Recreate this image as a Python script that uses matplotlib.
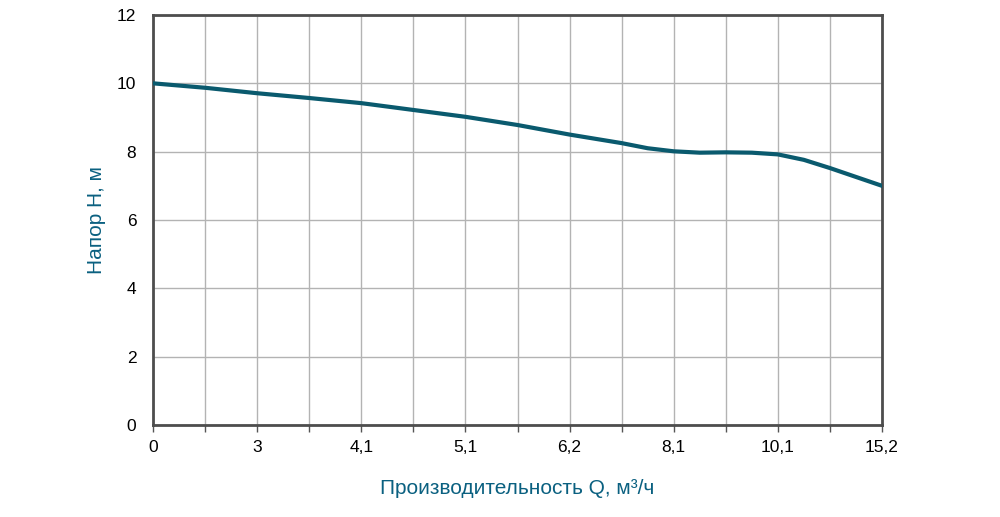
import matplotlib
matplotlib.use('Agg')
import matplotlib.pyplot as plt
from matplotlib.ticker import MultipleLocator

# category labels on the flow axis (evenly spaced)
q_labels = ['0', '3', '4,1', '5,1', '6,2', '8,1', '10,1', '15,2']

# curve (position in category steps, head in m)
curve_pos = [0, 0.5, 1, 1.5, 2, 2.5, 3, 3.5, 4, 4.5, 4.75, 5, 5.25, 5.5, 5.75, 6, 6.25, 6.5, 7]
head_h = [10.0, 9.87, 9.71, 9.57, 9.42, 9.22, 9.02, 8.78, 8.5, 8.25, 8.1, 8.01, 7.97, 7.98,
          7.97, 7.92, 7.76, 7.52, 7.0]

y_ticks = [0, 2, 4, 6, 8, 10, 12]

line_col = '#0a5a6e'
label_col = '#0a6080'

plt.rcParams['font.family'] = ['Liberation Sans', 'DejaVu Sans']

fig = plt.figure(figsize=(10, 5.17), dpi=100)
ax = fig.add_axes([0.153, 0.178, 0.729, 0.793])

ax.plot(curve_pos, head_h, color=line_col, lw=3, solid_joinstyle='round', zorder=3)

ax.set_xlim(0, len(q_labels) - 1)
ax.set_ylim(0, 12)
ax.set_xticks(range(len(q_labels)))
ax.set_xticklabels(q_labels)
ax.xaxis.set_minor_locator(MultipleLocator(0.5))
ax.set_yticks(y_ticks)

ax.grid(True, which='both', axis='x', color='#b3b3b3', lw=1)
ax.grid(True, which='major', axis='y', color='#b3b3b3', lw=1)

ax.tick_params(axis='x', which='both', length=5, width=1, color='#555555',
               labelsize=12.5, pad=6)
ax.tick_params(axis='y', length=0, labelsize=12.5, pad=12)

for s in ax.spines.values():
    s.set_color('#4d4d4d')
    s.set_linewidth(2)

ax.set_xlabel('Производительность Q, м³/ч', fontsize=15, color=label_col, labelpad=17)
ax.set_ylabel('Напор Н, м', fontsize=15, color=label_col, labelpad=8)

fig.savefig('out.png', dpi=100)
